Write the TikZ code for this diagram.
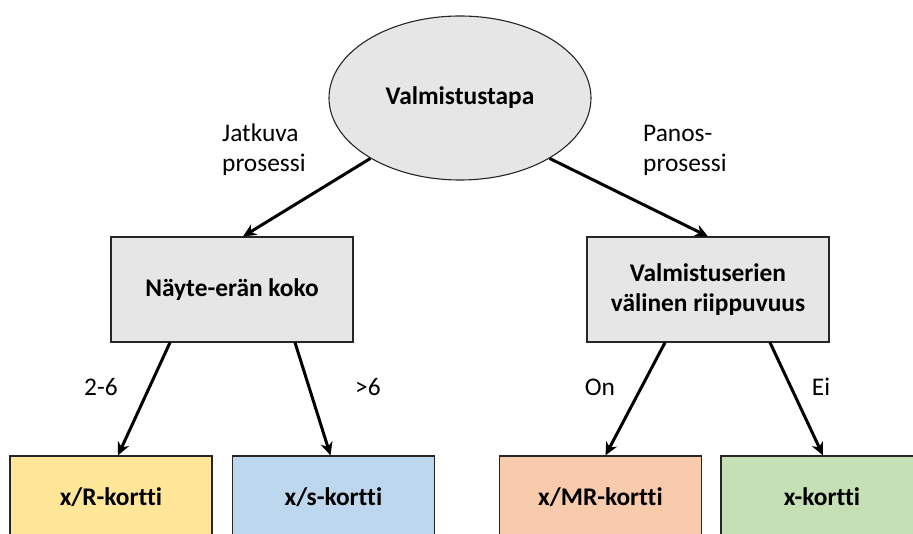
\documentclass[tikz,border=0pt]{standalone}
\usepackage{fontspec}
\setmainfont{Carlito}[Ligatures=NoCommon]
\usetikzlibrary{shapes}
\usetikzlibrary{arrows.meta}
\usetikzlibrary{positioning}

\definecolor{qgray}{HTML}{E7E6E6}
\definecolor{qyellow}{HTML}{FFE699}
\definecolor{qblue}{HTML}{BDD7EE}
\definecolor{qorange}{HTML}{F8CBAD}
\definecolor{qgreen}{HTML}{C5E0B4}

\begin{document}
\begin{tikzpicture}[x=1pt, y=-1pt,
  choice/.style={
    draw=black!85,
    line width=1.1pt,
    fill=#1,
    align=center,
    inner sep=0pt,
    font=\fontsize{25.4}{30}\selectfont\bfseries},
  card/.style={choice=#1, minimum width=202pt, minimum height=82pt},
  query/.style={choice=qgray, minimum width=242pt, minimum height=105pt},
  link/.style={-{Stealth[length=13pt, width=12pt, inset=4pt]}, line width=3pt},
  lbl/.style={align=left, inner sep=0pt, font=\fontsize{25.4}{30}\selectfont}]
  \useasboundingbox (0,0) rectangle (913,534);
  \clip (0,0) rectangle (913,534);
  % draw root and question nodes
  \node[choice=qgray, ellipse, minimum width=262pt, minimum height=164pt] (tapa) at (460,98) {Valmistustapa};
  \node[query] (koko) at (232,289.5) {Näyte-erän koko};
  \node[query] (riip) at (708,289.5) {Valmistuserien\\välinen riippuvuus};
  % draw chart nodes
  \foreach \t/\c/\x [count=\step from 1] in {{{x/R-kortti}}/qyellow/111, {{x/s-kortti}}/qblue/333.5,
      {{x/MR-kortti}}/qorange/600.5, {{x-kortti}}/qgreen/822}
    \node[card=\c] (k\step) at (\x,497) {\t};
  % draw branch links
  \draw[link] (tapa.-146) -- ([xshift=11pt]koko.north);
  \draw[link] (tapa.-34) -- (riip.north);
  \draw[link] ([xshift=-62pt]koko.south) -- ([xshift=7pt]k1.north);
  \draw[link] ([xshift=63pt]koko.south) -- ([xshift=-3pt]k2.north);
  \draw[link] ([xshift=-43pt]riip.south) -- ([xshift=5pt]k3.north);
  \draw[link] ([xshift=62pt]riip.south) -- ([xshift=1pt]k4.north);
  % draw branch labels
  \node[lbl, anchor=west] (jatk) at (222,150) {Jatkuva\\prosessi};
  \node[lbl, anchor=west] (pano) at (643,150) {Panos-\\prosessi};
  \node[lbl] (l26) at (101,387) {2-6};
  \node[lbl] (lgt) at (368,387) {>6};
  \node[lbl] (lon) at (600,387) {On};
  \node[lbl] (lei) at (821,387) {Ei};
\end{tikzpicture}
\end{document}
